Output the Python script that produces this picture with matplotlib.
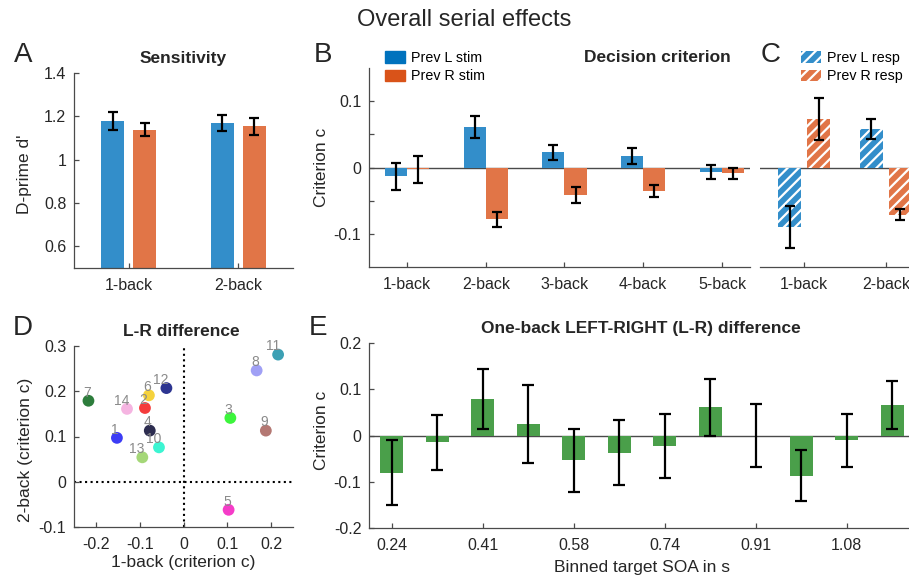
import matplotlib
matplotlib.use('Agg')
import matplotlib.pyplot as plt
from matplotlib.patches import Patch
import numpy as np

plt.rcParams['font.family'] = ['Liberation Sans', 'DejaVu Sans']
plt.rcParams['axes.unicode_minus'] = False
plt.rcParams['hatch.linewidth'] = 1.6

#%% data

# A: sensitivity
a_labels = ['1-back', '2-back']
a_prev_l = [1.177, 1.169]
a_prev_l_err = [0.042, 0.037]
a_prev_r = [1.139, 1.155]
a_prev_r_err = [0.032, 0.039]

# B: decision criterion by previous stimulus
b_labels = ['1-back', '2-back', '3-back', '4-back', '5-back']
b_prev_l = [-0.0135, 0.061, 0.023, 0.0173, -0.007]
b_prev_l_err = [0.020, 0.0163, 0.0115, 0.012, 0.0107]
b_prev_r = [-0.003, -0.078, -0.0418, -0.0357, -0.009]
b_prev_r_err = [0.020, 0.011, 0.012, 0.009, 0.009]

# C: decision criterion by previous response
c_labels = ['1-back', '2-back']
c_prev_l = [-0.090, 0.0577]
c_prev_l_err = [0.032, 0.015]
c_prev_r = [0.073, -0.071]
c_prev_r_err = [0.0315, 0.008]

# D: per-subject L-R difference
d_ids = [1, 2, 3, 4, 5, 6, 7, 8, 9, 10, 11, 12, 13, 14]
d_x = [-0.152, -0.088, 0.107, -0.077, 0.103, -0.079, -0.217, 0.167, 0.188, -0.056, 0.216, -0.039, -0.094, -0.129]
d_y = [0.097, 0.163, 0.141, 0.113, -0.062, 0.191, 0.179, 0.246, 0.113, 0.076, 0.281, 0.207, 0.054, 0.161]
d_colors = ['#3c3cf5', '#f53c3c', '#3cf53c', '#2d2d50', '#f53cc8', '#f5d23c', '#2d7d3c',
            '#a0a0f5', '#b47873', '#3cf5d2', '#3ca0b4', '#2d3591', '#a5d778', '#f5b4e1']

# E: one-back L-R difference by SOA bin
e_tick_labels = ['0.24', '0.41', '0.58', '0.74', '0.91', '1.08']
e_vals = [-0.080, -0.0144, 0.0787, 0.0245, -0.054, -0.0368, -0.0224, 0.0606, 0.0, -0.0866, -0.0108, 0.0664]
e_err = [0.071, 0.0596, 0.065, 0.084, 0.068, 0.070, 0.0697, 0.062, 0.068, 0.055, 0.057, 0.0523]

#%% styles

BLUE = '#0072BD'
ORANGE = '#D95319'
BLUE_FILL = '#338ECA'
ORANGE_FILL = '#E17547'
GREEN = '#4a9f4a'
AX = '#4a4a4a'
TXT = '#262626'

W, H = 909, 577
fig = plt.figure(figsize=(W / 100, H / 100), dpi=100)


def px_axes(left, top, right, bottom):
    return fig.add_axes([left / W, 1 - bottom / H, (right - left) / W, (bottom - top) / H])


def fig_text(x, y, s, **kw):
    fig.text(x / W, 1 - y / H, s, va='center', ha='center', color=TXT, **kw)


def style(ax, left=True):
    ax.spines['top'].set_visible(False)
    ax.spines['right'].set_visible(False)
    if not left:
        ax.spines['left'].set_visible(False)
    for s in ax.spines.values():
        s.set_color(AX)
        s.set_linewidth(0.9)
    ax.tick_params(direction='in', length=3.5, width=0.9, color=AX,
                   labelsize=11.5, labelcolor=TXT, pad=5.5)
    ax.tick_params(axis='x', pad=7.5)
    if not left:
        ax.tick_params(axis='y', left=False, labelleft=False)


def errbars(ax, x, y, err, cap=3.5):
    ax.errorbar(x, y, yerr=err, fmt='none', ecolor='k', elinewidth=1.6,
                capsize=cap, capthick=1.6, zorder=4)


#%% A
ax = px_axes(74, 73, 293, 268)
style(ax)
xa = np.arange(1, len(a_labels) + 1)
ax.bar(xa - 0.145, a_prev_l, 0.21, color=BLUE_FILL)
ax.bar(xa + 0.145, a_prev_r, 0.21, color=ORANGE_FILL)
errbars(ax, xa - 0.145, a_prev_l, a_prev_l_err)
errbars(ax, xa + 0.145, a_prev_r, a_prev_r_err)
ax.set_xlim(0.5, 2.5)
ax.set_ylim(0.5, 1.4)
ax.set_xticks(xa)
ax.set_xticklabels(a_labels)
ax.set_yticks([0.6, 0.8, 1.0, 1.2, 1.4])
ax.set_yticklabels(['0.6', '0.8', '1', '1.2', '1.4'])
ax.set_ylabel("D-prime d'", fontsize=12.5, color=TXT)
ax.yaxis.set_label_coords(-0.19, 0.48)

#%% B
ax = px_axes(369, 68, 750, 267)
style(ax)
xb = np.arange(1, len(b_labels) + 1)
ax.axhline(0, color=AX, lw=1.0, zorder=1)
ax.bar(xb - 0.14, b_prev_l, 0.28, color=BLUE_FILL, zorder=2)
ax.bar(xb + 0.14, b_prev_r, 0.28, color=ORANGE_FILL, zorder=2)
errbars(ax, xb - 0.14, b_prev_l, b_prev_l_err)
errbars(ax, xb + 0.14, b_prev_r, b_prev_r_err)
ax.set_xlim(0.517, 5.356)
ax.set_ylim(-0.15, 0.15)
ax.set_xticks(xb)
ax.set_xticklabels(b_labels)
ax.set_yticks([-0.1, -0.05, 0, 0.05, 0.1])
ax.set_yticklabels(['-0.1', '', '0', '', '0.1'])
ax.set_ylabel('Criterion c', fontsize=12.5, color=TXT)
ax.yaxis.set_label_coords(-0.106, 0.5)

fig.legend([Patch(color=BLUE), Patch(color=ORANGE)], ['Prev L stim', 'Prev R stim'],
           loc='upper left', bbox_to_anchor=(385 / W, 1 - 51 / H), bbox_transform=fig.transFigure,
           frameon=False, fontsize=10.3, handlelength=1.4, handleheight=0.85,
           handletextpad=0.45, labelspacing=0.3, borderpad=0, borderaxespad=0)

#%% C
ax = px_axes(760, 68, 930, 267)
style(ax, left=False)
xc = np.arange(1, len(c_labels) + 1)
ax.axhline(0, color=AX, lw=1.0, zorder=1)
ax.bar(xc - 0.177, c_prev_l, 0.28, color=BLUE_FILL, edgecolor='white', hatch='///', lw=0, zorder=2)
ax.bar(xc + 0.177, c_prev_r, 0.28, color=ORANGE_FILL, edgecolor='white', hatch='///', lw=0, zorder=2)
errbars(ax, xc - 0.177, c_prev_l, c_prev_l_err)
errbars(ax, xc + 0.177, c_prev_r, c_prev_r_err)
ax.set_xlim(0.46, 2.54)
ax.set_ylim(-0.15, 0.15)
ax.set_xticks(xc)
ax.set_xticklabels(c_labels)

fig.legend([Patch(facecolor=BLUE_FILL, edgecolor='white', hatch='///', lw=0),
            Patch(facecolor=ORANGE_FILL, edgecolor='white', hatch='///', lw=0)],
           ['Prev L resp', 'Prev R resp'],
           loc='upper left', bbox_to_anchor=(801 / W, 1 - 51 / H), bbox_transform=fig.transFigure,
           frameon=False, fontsize=10.3, handlelength=1.4, handleheight=0.85,
           handletextpad=0.45, labelspacing=0.3, borderpad=0, borderaxespad=0)

#%% D
ax = px_axes(74, 346, 293, 527)
style(ax)
ax.axhline(0, color='k', ls=':', lw=1.5, zorder=1)
ax.axvline(0, color='k', ls=':', lw=1.5, zorder=1)
ax.scatter(d_x, d_y, s=72, c=d_colors, edgecolors='none', zorder=3)
for i, xx, yy in zip(d_ids, d_x, d_y):
    ax.annotate(str(i), (xx, yy), xytext=(1.5, 3), textcoords='offset points',
                ha='right', va='baseline', fontsize=10, color='#8a8a8a', zorder=4)
ax.set_xlim(-0.25, 0.25)
ax.set_ylim(-0.1, 0.3)
ax.set_xticks([-0.2, -0.1, 0, 0.1, 0.2])
ax.set_xticklabels(['-0.2', '-0.1', '0', '0.1', '0.2'])
ax.set_yticks([-0.1, 0, 0.1, 0.2, 0.3])
ax.set_yticklabels(['-0.1', '0', '0.1', '0.2', '0.3'])
ax.set_xlabel('1-back (criterion c)', fontsize=12.5, color=TXT)
ax.xaxis.set_label_coords(0.498, -0.155)
ax.set_ylabel('2-back (criterion c)', fontsize=12.5, color=TXT)
ax.yaxis.set_label_coords(-0.186, 0.425)

#%% E
ax = px_axes(369, 343, 915, 528)
style(ax)
xe = np.arange(1, len(e_vals) + 1)
ax.axhline(0, color=AX, lw=1.0, zorder=1)
ax.bar(xe, e_vals, 0.5, color=GREEN, zorder=2)
errbars(ax, xe, e_vals, e_err, cap=4)
ax.set_xlim(0.5, 12.5)
ax.set_ylim(-0.2, 0.2)
ax.set_xticks(xe[::2])
ax.set_xticklabels(e_tick_labels)
ax.set_yticks([-0.2, -0.1, 0, 0.1, 0.2])
ax.set_yticklabels(['-0.2', '-0.1', '0', '0.1', '0.2'])
ax.set_xlabel('Binned target SOA in s', fontsize=12.5, color=TXT)
ax.xaxis.set_label_coords(0.5, -0.172)
ax.set_ylabel('Criterion c', fontsize=12.5, color=TXT)
ax.yaxis.set_label_coords(-0.074, 0.53)

#%% titles and panel letters
fig_text(464, 20, 'Overall serial effects', fontsize=17)
fig_text(183, 58, 'Sensitivity', fontsize=12.5, fontweight='bold')
fig_text(657, 58, 'Decision criterion', fontsize=12.5, fontweight='bold')
fig_text(181, 331, 'L-R difference', fontsize=12.5, fontweight='bold')
fig_text(641, 328, 'One-back LEFT-RIGHT (L-R) difference', fontsize=12.5, fontweight='bold')

for letter, lx, ly in [('A', 23, 55), ('B', 323, 55), ('C', 771, 55), ('D', 23, 328), ('E', 318, 328)]:
    fig_text(lx, ly, letter, fontsize=20)

fig.savefig('out.png', dpi=100)
